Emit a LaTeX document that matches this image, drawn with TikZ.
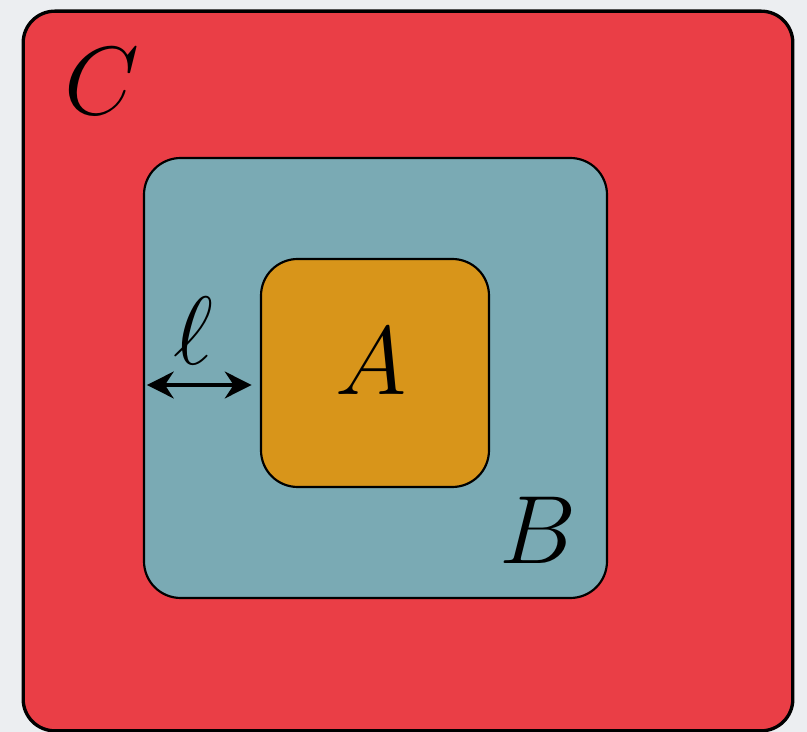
\documentclass[tikz,border=0pt]{standalone}
\definecolor{regionred}{RGB}{234, 62, 70}
\definecolor{regionteal}{RGB}{122, 170, 180}
\definecolor{regionorange}{RGB}{216, 149, 26}
\definecolor{backgray}{RGB}{236, 238, 241}
\usepackage{tikz}
\usetikzlibrary{shapes, arrows.meta, positioning, calc}
\usepackage{amsmath, amssymb}

\tikzset{
  region/.style={draw=black, rectangle, rounded corners=11pt, line width=0.65pt},
  biglabel/.style={inner sep=0pt, font=\Huge, scale=1.17, transform shape}
}

\begin{document}
\begin{tikzpicture}[x=0.3pt, y=-0.3pt]
  \fill[backgray] (0,0) rectangle (807,732);
  \useasboundingbox (0,0) rectangle (807,732);

  \node[region, fill=regionred, line width=1pt, rounded corners=9.5pt,
        minimum width=230.9pt, minimum height=215.9pt] (setC) at (408,371) {};
  \node[region, fill=regionteal, minimum width=138.9pt, minimum height=132pt] (setB) at (375.5,378) {};
  \node[region, fill=regionorange, minimum width=68.4pt, minimum height=68.4pt] (setA) at (375,373) {};

  \node[biglabel] (labC) at (102,81) {$C$};
  \node[biglabel] (labB) at (538,530) {$B$};
  \node[biglabel] (labA) at (371,361) {$A$};

  % width of the margin between A and B
  \coordinate (gapL) at (setB.west |- 0,385);
  \coordinate (gapR) at (setA.west |- 0,385);
  \draw[{Stealth[length=8pt, width=8pt]}-{Stealth[length=8pt, width=8pt]}, line width=1.4pt,
        shorten <=1.2pt, shorten >=2.5pt] (gapL) -- (gapR);
  \node[biglabel] (labEll) at (193,331) {$\ell$};
\end{tikzpicture}
\end{document}
